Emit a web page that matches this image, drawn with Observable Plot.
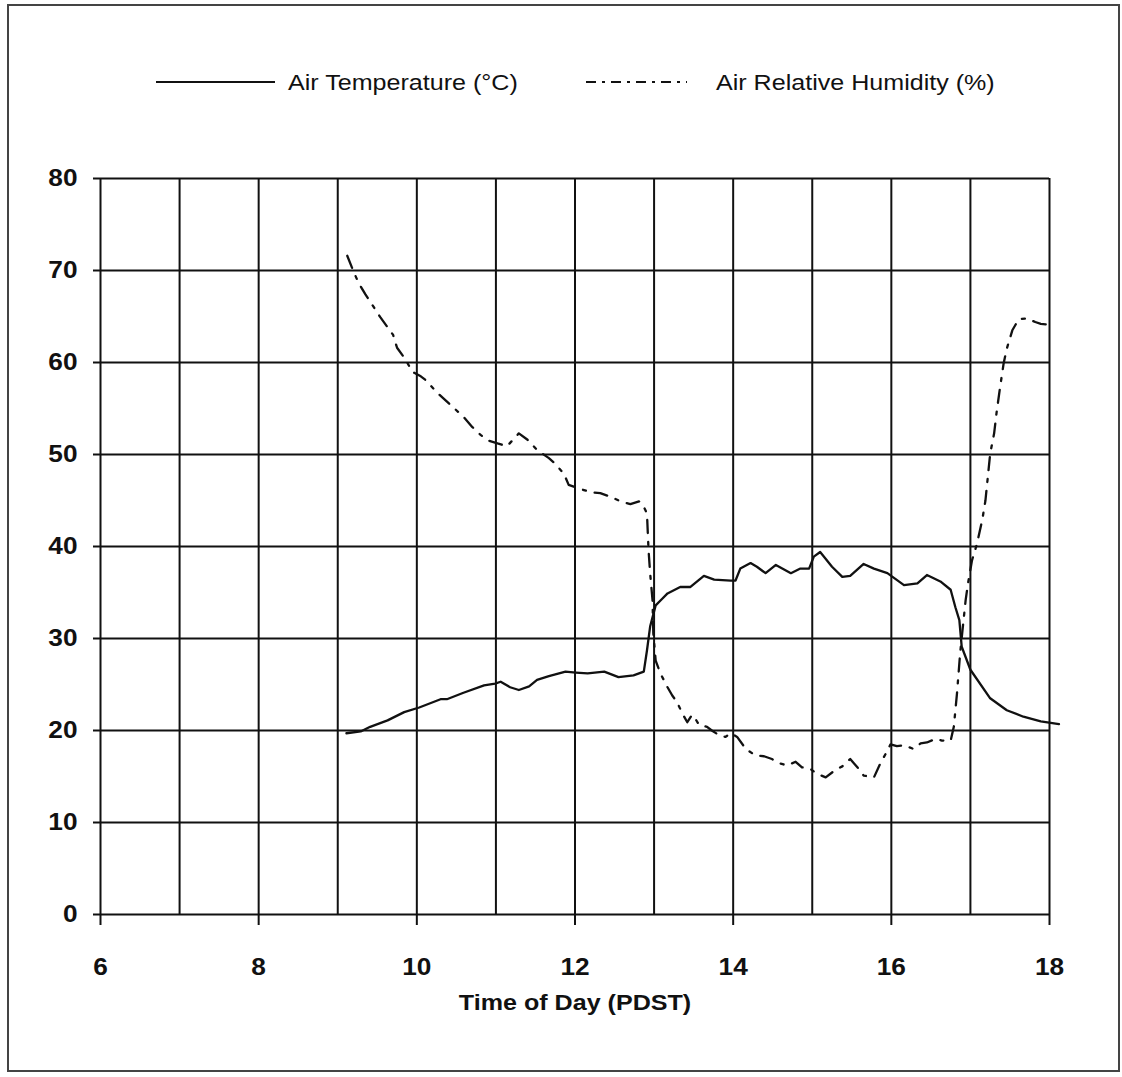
<!DOCTYPE html>
<html><head><meta charset="utf-8">
<script src="https://cdn.jsdelivr.net/npm/d3@7"></script>
<script src="https://cdn.jsdelivr.net/npm/@observablehq/plot@0.6"></script>
<style>
body{margin:0;background:#fff;}
#wrap{position:relative;width:1122px;height:1077px;overflow:hidden;background:#fff;}
#border{position:absolute;left:7px;top:4px;width:1113px;height:1068px;border:2px solid #444;box-sizing:border-box;}
#legend{position:absolute;left:0;top:0;}
#chart{position:absolute;left:0;top:0;}
</style></head><body>
<div id="wrap"><div id="border"></div><div id="chart"></div>
<svg id="legend" width="1122" height="140" font-family="'Liberation Sans', Arial, sans-serif"></svg></div>
<script>
// ---- data ----
const tempHours = [9.11,9.29,9.41,9.63,9.84,10.03,10.30,10.38,10.59,10.85,10.99,11.06,11.18,11.29,11.42,11.52,11.67,11.88,12.01,12.16,12.37,12.55,12.74,12.87,12.91,12.95,13.02,13.10,13.17,13.33,13.46,13.63,13.76,13.97,14.03,14.09,14.22,14.30,14.41,14.54,14.73,14.85,14.96,15.02,15.10,15.25,15.38,15.48,15.65,15.78,15.95,16.16,16.33,16.45,16.62,16.75,16.81,16.86,16.89,17.00,17.25,17.46,17.67,17.89,18.12];
const tempValues = [19.7,19.9,20.4,21.1,22.0,22.5,23.4,23.4,24.1,24.9,25.1,25.3,24.7,24.4,24.8,25.5,25.9,26.4,26.3,26.2,26.4,25.8,26.0,26.4,28.7,31.3,33.6,34.3,34.9,35.6,35.6,36.8,36.4,36.3,36.3,37.6,38.2,37.8,37.1,38.0,37.1,37.6,37.6,38.9,39.4,37.8,36.7,36.8,38.1,37.6,37.1,35.8,36.0,36.9,36.2,35.3,33.4,32.0,29.1,26.6,23.5,22.2,21.5,21.0,20.7];
const rhHours = [9.12,9.19,9.26,9.35,9.54,9.70,9.75,9.86,9.94,10.05,10.11,10.26,10.45,10.59,10.70,10.81,10.91,11.02,11.14,11.27,11.29,11.40,11.52,11.67,11.75,11.86,11.92,12.05,12.20,12.32,12.45,12.58,12.70,12.81,12.87,12.91,12.93,12.95,12.98,12.99,13.02,13.08,13.17,13.23,13.29,13.36,13.42,13.48,13.52,13.57,13.67,13.73,13.82,13.90,13.97,14.05,14.16,14.28,14.39,14.49,14.60,14.68,14.79,14.87,14.98,15.06,15.17,15.29,15.38,15.48,15.59,15.65,15.78,15.86,15.95,15.99,16.07,16.16,16.28,16.37,16.45,16.56,16.64,16.75,16.79,16.83,16.87,16.90,16.94,16.97,17.02,17.08,17.15,17.19,17.25,17.30,17.33,17.37,17.42,17.46,17.53,17.61,17.72,17.82,17.89,18.00];
const rhValues = [71.6,70.1,68.7,67.4,64.9,63.0,61.6,60.3,59.0,58.5,58.1,56.7,55.2,54.1,53.0,52.1,51.5,51.2,50.9,52.1,52.3,51.6,50.5,49.6,49.0,47.9,46.7,46.3,45.9,45.8,45.4,44.9,44.6,44.9,44.3,43.6,39.6,37.1,34.2,30.6,27.6,26.2,24.7,23.8,23.1,21.8,20.9,21.7,21.3,20.6,20.4,20.0,19.5,19.3,19.7,19.3,18.0,17.3,17.2,16.9,16.4,16.2,16.6,16.0,15.8,15.3,14.9,15.7,16.1,16.9,15.8,15.1,14.9,16.4,17.8,18.5,18.3,18.4,18.0,18.6,18.7,19.1,18.9,18.9,20.4,24.0,28.4,30.9,34.2,36.0,38.5,40.2,42.9,45.0,50.1,52.3,54.5,57.0,59.9,61.5,63.5,64.7,64.8,64.4,64.2,64.1];
const xTicks = [6,8,10,12,14,16,18];
const hourGrid = [6,7,8,9,10,11,12,13,14,15,16,17,18];
const yTicks = [0,10,20,30,40,50,60,70,80];
const seriesNames = ["Air Temperature (\u00B0C)", "Air Relative Humidity (%)"];
const xTitle = "Time of Day (PDST)";

const temp = tempHours.map((h,i)=>({h, v: tempValues[i]}));
const rh = rhHours.map((h,i)=>({h, v: rhValues[i]}));
const ink = "#111";
const dash = "13,9,3,9";
const FONT = "'Liberation Sans', Arial, Helvetica, sans-serif";

const plot = Plot.plot({
  width: 1122, height: 1077,
  marginLeft: 100, marginRight: 73, marginTop: 178, marginBottom: 163,
  x: {domain: [6, 18]},
  y: {domain: [0, 80]},
  style: {background: "transparent", fontFamily: FONT, color: ink},
  marks: [
    Plot.gridX(hourGrid, {stroke: ink, strokeOpacity: 1, strokeWidth: 2}),
    Plot.gridY(yTicks, {stroke: ink, strokeOpacity: 1, strokeWidth: 2}),
    Plot.axisY(yTicks, {tickSize: 7, tickPadding: 16, fontSize: 23, fontWeight: "bold", color: ink, strokeWidth: 2, label: null}),
    Plot.axisX(xTicks, {tickSize: 11, tickPadding: 33, fontSize: 23, fontWeight: "bold", color: ink, strokeWidth: 2, label: null}),
    Plot.text([xTitle], {frameAnchor: "bottom", dy: 95, fontSize: 22, fontWeight: "bold", fill: ink}),
    Plot.line(temp, {x: "h", y: "v", stroke: ink, strokeWidth: 2.3}),
    Plot.line(rh, {x: "h", y: "v", stroke: ink, strokeWidth: 2.3, strokeDasharray: dash})
  ]
});
document.getElementById("chart").appendChild(plot);

// legend
const lg = d3.select("#legend");
lg.append("line").attr("x1",156).attr("x2",275).attr("y1",82).attr("y2",82).attr("stroke",ink).attr("stroke-width",2);
lg.append("text").attr("x",288).attr("y",90).attr("font-size",22).attr("fill",ink).text(seriesNames[0]);
lg.append("line").attr("x1",586).attr("x2",687).attr("y1",82).attr("y2",82).attr("stroke",ink).attr("stroke-width",2).attr("stroke-dasharray","10,6,3,6");
lg.append("text").attr("x",716).attr("y",90).attr("font-size",22).attr("fill",ink).text(seriesNames[1]);

// the scanned original is slightly wider than normal type: stretch text horizontally
const STRETCH = 1.14;
document.querySelectorAll("#wrap svg text").forEach(el => {
  const L = el.getComputedTextLength();
  if (L > 0) { el.setAttribute("textLength", (L*STRETCH).toFixed(1)); el.setAttribute("lengthAdjust","spacingAndGlyphs"); }
});
</script></body></html>
